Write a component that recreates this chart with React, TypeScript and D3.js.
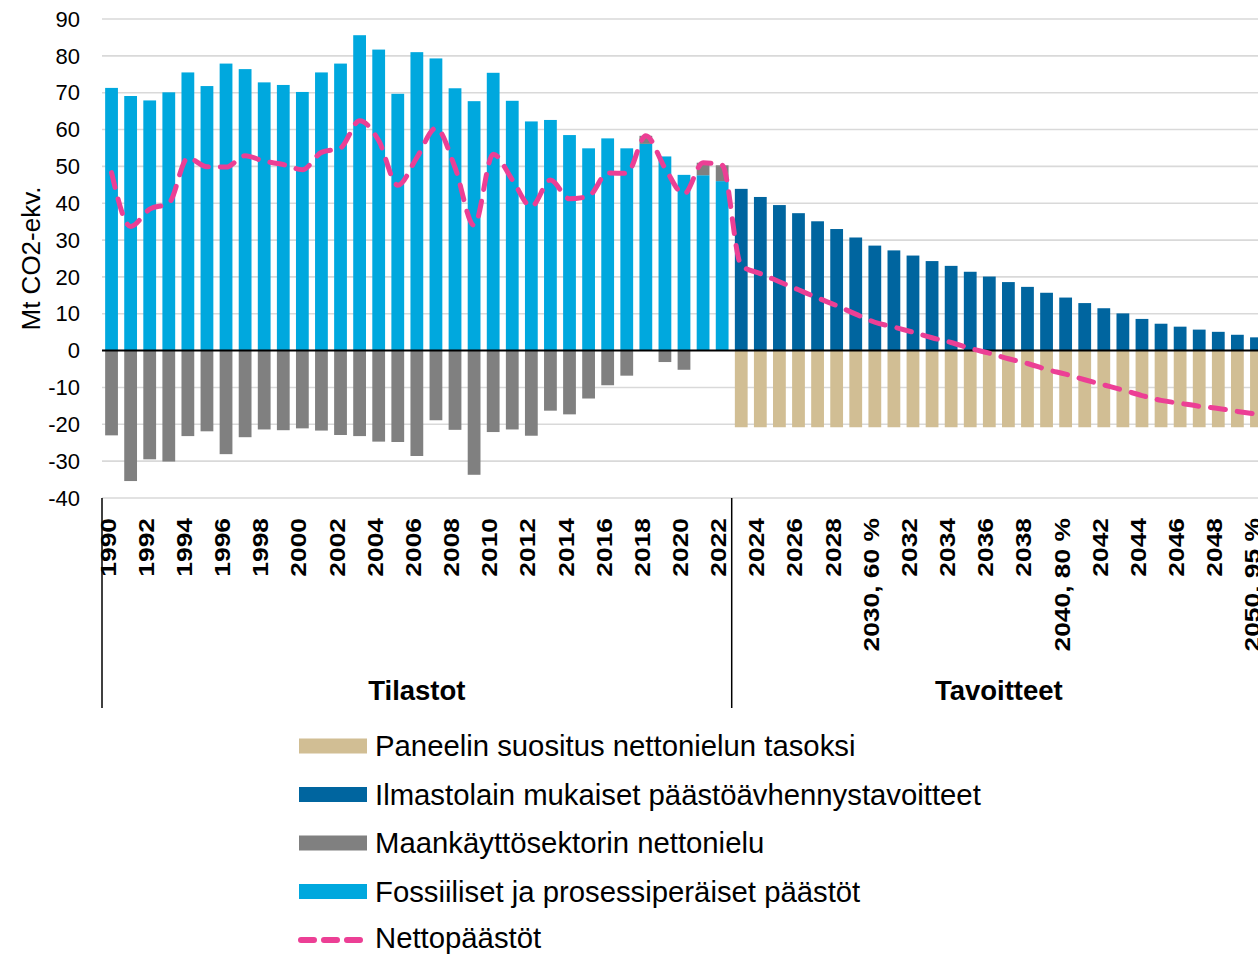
import React, { useEffect, useRef } from 'react';
import * as d3 from 'd3';

// categories (years), 2030/2040/2050 carry the target percentage
const categories = [
  '1990', '1991', '1992', '1993', '1994', '1995', '1996', '1997', '1998', '1999',
  '2000', '2001', '2002', '2003', '2004', '2005', '2006', '2007', '2008', '2009',
  '2010', '2011', '2012', '2013', '2014', '2015', '2016', '2017', '2018', '2019',
  '2020', '2021', '2022', '2023', '2024', '2025', '2026', '2027', '2028', '2029',
  '2030, 60 %', '2031', '2032', '2033', '2034', '2035', '2036', '2037', '2038', '2039',
  '2040, 80 %', '2041', '2042', '2043', '2044', '2045', '2046', '2047', '2048', '2049',
  '2050, 95 %',
];

// 1990-2022 statistics
const fossil = [
  71.3, 69.1, 67.9, 70.1, 75.5, 71.8, 77.9, 76.4, 72.8, 72.1,
  70.2, 75.5, 77.9, 85.6, 81.7, 69.7, 81.0, 79.3, 71.2, 67.7,
  75.4, 67.8, 62.2, 62.6, 58.5, 54.9, 57.6, 54.9, 56.1, 52.7,
  47.7, 47.6, 46.0,
];
const lulucf = [
  -23.0, -35.4, -29.5, -30.1, -23.2, -21.9, -28.1, -23.5, -21.4, -21.6,
  -21.1, -21.7, -22.9, -23.2, -24.7, -24.8, -28.6, -18.9, -21.5, -33.7,
  -22.1, -21.4, -23.1, -16.3, -17.3, -13.0, -9.4, -6.8, 2.2, -3.1,
  -5.2, 3.4, 4.3,
];

// 2023-2050 targets
const targets = [
  43.9, 41.7, 39.5, 37.3, 35.1, 33.0, 30.7, 28.5, 27.2, 25.8,
  24.3, 23.0, 21.4, 20.1, 18.6, 17.3, 15.7, 14.4, 12.9, 11.5,
  10.1, 8.6, 7.3, 6.5, 5.7, 5.1, 4.3, 3.6,
];
const panelSink = [
  -20.8, -20.8, -20.8, -20.8, -20.8, -20.8, -20.8, -20.8, -20.8, -20.8,
  -20.8, -20.8, -20.8, -20.8, -20.8, -20.8, -20.8, -20.8, -20.8, -20.8,
  -20.8, -20.8, -20.8, -20.8, -20.8, -20.8, -20.8, -20.8,
];

// net emissions line, 1990-2050
const netEmissions = [
  48.3, 33.7, 38.4, 40.0, 52.3, 49.9, 49.8, 52.9, 51.4, 50.5,
  49.1, 53.8, 55.0, 62.4, 57.0, 44.9, 52.4, 60.4, 49.7, 34.0,
  53.3, 46.4, 39.1, 46.3, 41.2, 41.9, 48.2, 48.1, 58.3, 49.6,
  42.5, 51.0, 50.3, 23.1, 20.9, 18.7, 16.5, 14.3, 12.2, 9.9,
  7.7, 6.4, 5.0, 3.5, 2.2, 0.6, -0.7, -2.2, -3.5, -5.1,
  -6.4, -7.9, -9.3, -10.7, -12.2, -13.5, -14.3, -15.1, -15.7, -16.5,
  -17.2,
];

const yTicks = [-40, -30, -20, -10, 0, 10, 20, 30, 40, 50, 60, 70, 80, 90];
const groups = [
  { label: 'Tilastot', from: '1990', to: '2022' },
  { label: 'Tavoitteet', from: '2023', to: '2050, 95 %' },
];

const colors = {
  fossil: '#00a8de',
  target: '#00659f',
  lulucf: '#808080',
  panel: '#d1be94',
  net: '#ec3f95',
};

const legendItems = [
  { key: 'panel', label: 'Paneelin suositus nettonielun tasoksi' },
  { key: 'target', label: 'Ilmastolain mukaiset päästöävhennystavoitteet' },
  { key: 'lulucf', label: 'Maankäyttösektorin nettonielu' },
  { key: 'fossil', label: 'Fossiiliset ja prosessiperäiset päästöt' },
  { key: 'net', label: 'Nettopäästöt' },
];

const FONT = '"Liberation Sans", Arial, Helvetica, sans-serif';

export default function App() {
  const svgRef = useRef<SVGSVGElement>(null);

  useEffect(() => {
    const svg = d3.select(svgRef.current);
    svg.selectAll('*').remove();

    const width = 1258;
    const height = 954;
    const plotLeft = 102;
    const plotRight = 1266; // runs past the picture edge, like the original
    const plotTop = 19;
    const plotBottom = 498;
    const nHist = fossil.length;

    svg.attr('width', width).attr('height', height).style('font-family', FONT);

    const x = d3.scaleBand<string>()
      .domain(categories)
      .range([plotLeft, plotRight])
      .paddingInner(0.33)
      .paddingOuter(0.165);
    const y = d3.scaleLinear().domain([-40, 90]).range([plotBottom, plotTop]);
    const bw = x.bandwidth();
    const half = (x.step() - bw) / 2;

    // table for the stack
    const rows = categories.map((c, i) => ({
      cat: c,
      fossil: i < nHist ? fossil[i] : 0,
      target: i >= nHist ? targets[i - nHist] : 0,
      lulucf: i < nHist ? lulucf[i] : 0,
      panel: i >= nHist ? panelSink[i - nHist] : 0,
    }));

    const keys = ['fossil', 'target', 'lulucf', 'panel'];
    const series = d3.stack<any>()
      .keys(keys)
      .offset(d3.stackOffsetDiverging)(rows);

    // gridlines
    svg.append('g')
      .selectAll('line')
      .data(yTicks.filter(t => t !== 0))
      .enter()
      .append('line')
      .attr('x1', plotLeft)
      .attr('x2', width)
      .attr('y1', d => y(d))
      .attr('y2', d => y(d))
      .attr('stroke', '#d9d9d9')
      .attr('stroke-width', 1.6);

    // bars
    series.forEach(s => {
      svg.append('g')
        .attr('fill', (colors as any)[s.key])
        .selectAll('rect')
        .data(s.filter(d => d[1] - d[0] !== 0))
        .enter()
        .append('rect')
        .attr('x', d => x(d.data.cat)!)
        .attr('width', bw)
        .attr('y', d => y(Math.max(d[0], d[1])))
        .attr('height', d => Math.abs(y(d[0]) - y(d[1])));
    });

    // zero line
    svg.append('line')
      .attr('x1', plotLeft)
      .attr('x2', width)
      .attr('y1', y(0))
      .attr('y2', y(0))
      .attr('stroke', '#000')
      .attr('stroke-width', 2);

    // net emissions line
    const line = d3.line<number>()
      .x((d, i) => x(categories[i])! + bw / 2)
      .y(d => y(d))
      .curve(d3.curveMonotoneX);

    svg.append('path')
      .datum(netEmissions)
      .attr('d', line)
      .attr('fill', 'none')
      .attr('stroke', colors.net)
      .attr('stroke-width', 5)
      .attr('stroke-linecap', 'round')
      .attr('stroke-dasharray', '15 12');

    // y axis labels
    svg.append('g')
      .selectAll('text')
      .data(yTicks)
      .enter()
      .append('text')
      .attr('x', 80)
      .attr('y', d => y(d))
      .attr('dy', '0.35em')
      .attr('text-anchor', 'end')
      .style('font-size', '22px')
      .text(d => String(d));

    svg.append('text')
      .attr('transform', `translate(40,${(plotTop + plotBottom) / 2}) rotate(-90)`)
      .attr('text-anchor', 'middle')
      .style('font-size', '26px')
      .text('Mt CO2-ekv.');

    // category labels, every other year
    svg.append('g')
      .selectAll('text')
      .data(categories.filter((c, i) => i % 2 === 0))
      .enter()
      .append('text')
      .attr('transform', d => `translate(${x(d)! + bw / 2},518) rotate(-90) scale(1.2,1)`)
      .attr('dy', '4')
      .attr('text-anchor', 'end')
      .style('font-size', '22px')
      .style('font-weight', 'bold')
      .text(d => d);

    // group dividers and labels
    const edges = [plotLeft, x('2023')! - half];
    svg.append('g')
      .selectAll('line')
      .data(edges)
      .enter()
      .append('line')
      .attr('x1', d => d)
      .attr('x2', d => d)
      .attr('y1', plotBottom)
      .attr('y2', 708)
      .attr('stroke', '#000')
      .attr('stroke-width', 1.5);

    svg.append('g')
      .selectAll('text')
      .data(groups)
      .enter()
      .append('text')
      .attr('x', g => (x(g.from)! - half + x(g.to)! + bw + half) / 2)
      .attr('y', 700)
      .attr('text-anchor', 'middle')
      .style('font-size', '27.5px')
      .style('font-weight', 'bold')
      .text(g => g.label);

    // legend
    const legend = svg.append('g').attr('transform', 'translate(299,746)');
    legendItems.forEach((item, i) => {
      const rowY = i < 4 ? i * 48.5 : 192;
      const row = legend.append('g').attr('transform', `translate(0,${rowY})`);
      if (item.key === 'net') {
        row.append('line')
          .attr('x1', 0)
          .attr('x2', 64)
          .attr('y1', 2)
          .attr('y2', 2)
          .attr('stroke', colors.net)
          .attr('stroke-width', 6)
          .attr('stroke-linecap', 'round')
          .attr('stroke-dasharray', '13 10')
          .attr('transform', 'translate(2,0)');
      } else {
        row.append('rect')
          .attr('x', 0)
          .attr('y', -7.5)
          .attr('width', 68)
          .attr('height', 15)
          .attr('fill', (colors as any)[item.key]);
      }
      row.append('text')
        .attr('x', 76)
        .attr('y', 10)
        .style('font-size', '29.3px')
        .text(item.label);
    });
  }, []);

  return (
    <svg
      ref={svgRef}
      style={{ position: 'absolute', left: 0, top: 0, background: '#fff' }}
    />
  );
}
